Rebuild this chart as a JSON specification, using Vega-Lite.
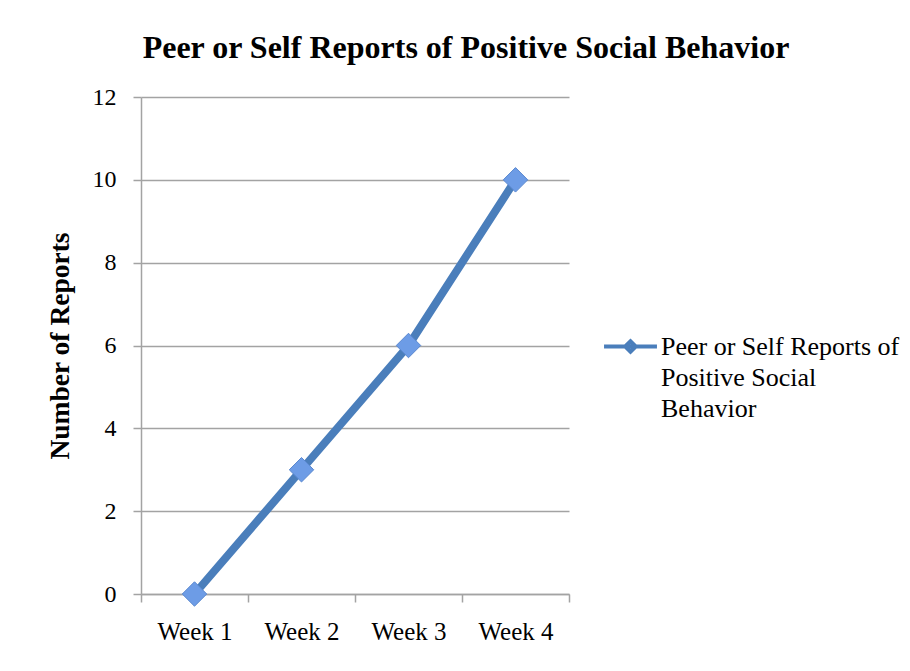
{
  "$schema": "https://vega.github.io/schema/vega-lite/v6.json",
  "autosize": "none",
  "padding": {"left": 141, "top": 97, "right": 341, "bottom": 77},
  "width": 428,
  "height": 497,
  "background": "white",
  "title": {
    "text": "Peer or Self Reports of Positive Social Behavior",
    "font": "Liberation Serif",
    "fontSize": 32,
    "fontWeight": "bold",
    "color": "black",
    "anchor": "middle",
    "frame": "group",
    "dx": 111,
    "offset": 20
  },
  "config": {
    "view": {"stroke": null},
    "legend": {"labelFont": "Liberation Serif", "labelFontSize": 26, "labelColor": "black"},
    "axis": {
      "labelFont": "Liberation Serif",
      "labelFontSize": 24,
      "labelColor": "black",
      "titleFont": "Liberation Serif",
      "titleColor": "black",
      "domainColor": "#a3a3a3",
      "domainWidth": 1.5,
      "tickColor": "#a3a3a3",
      "tickWidth": 1.5,
      "tickSize": 8,
      "gridColor": "#a3a3a3",
      "gridWidth": 1.5
    }
  },
  "data": {
    "values": [
      {"week": "Week 1", "reports": 0, "series": "Peer or Self Reports of Positive Social Behavior"},
      {"week": "Week 2", "reports": 3, "series": "Peer or Self Reports of Positive Social Behavior"},
      {"week": "Week 3", "reports": 6, "series": "Peer or Self Reports of Positive Social Behavior"},
      {"week": "Week 4", "reports": 10, "series": "Peer or Self Reports of Positive Social Behavior"}
    ]
  },
  "encoding": {
    "x": {
      "field": "week",
      "type": "ordinal",
      "sort": null,
      "scale": {"type": "band", "paddingInner": 0, "paddingOuter": 0},
      "axis": {
        "title": null,
        "labelAngle": 0,
        "labelPadding": 17,
        "labelFontSize": 25,
        "tickBand": "extent",
        "grid": false
      }
    },
    "y": {
      "field": "reports",
      "type": "quantitative",
      "scale": {"domain": [0, 12], "nice": false},
      "axis": {
        "title": "Number of Reports",
        "titleFontSize": 27.5,
        "titleFontWeight": "bold",
        "titlePadding": 18,
        "values": [0, 2, 4, 6, 8, 10, 12],
        "labelPadding": 17,
        "grid": true
      }
    }
  },
  "layer": [
    {
      "mark": {"type": "line", "strokeWidth": 8, "strokeCap": "butt"},
      "encoding": {
        "color": {
          "field": "series",
          "type": "nominal",
          "scale": {"range": ["#4a7ebb"]},
          "legend": {
            "title": null,
            "orient": "none",
            "legendX": 461,
            "legendY": 221,
            "symbolType": "M-1,0L1,0M-0.2,0L0,-0.2L0.2,0L0,0.2Z",
            "symbolSize": 2800,
            "labelFont": "Liberation Serif",
            "labelFontSize": 26,
            "labelColor": "black",
            "labelOffset": 2,
            "labelLimit": 400,
            "labelExpr": "['Peer or Self Reports of', 'Positive Social', 'Behavior']",
            "encode": {
              "symbols": {
                "update": {
                  "fill": {"value": "#6d9ce6"},
                  "stroke": {"value": "#4a7ebb"},
                  "strokeWidth": {"value": 4},
                  "opacity": {"value": 1}
                }
              },
              "labels": {
                "update": {
                  "font": {"value": "Liberation Serif"},
                  "baseline": {"value": "top"},
                  "lineHeight": {"value": 31},
                  "dy": {"value": -13}
                }
              }
            }
          }
        }
      }
    },
    {
      "mark": {
        "type": "point",
        "shape": "diamond",
        "size": 600,
        "filled": true,
        "fill": "#6d9ce6",
        "stroke": "#5a88cf",
        "strokeWidth": 1,
        "opacity": 1
      },
      "encoding": {}
    }
  ]
}
